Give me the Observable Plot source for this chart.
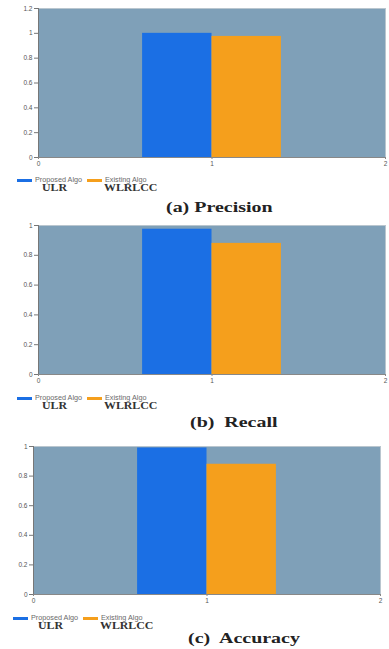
<!DOCTYPE html>
<html>
<head>
<meta charset="utf-8">
<script src="https://cdn.jsdelivr.net/npm/d3@7"></script>
<script src="https://cdn.jsdelivr.net/npm/@observablehq/plot@0.6"></script>
<style>
  body { margin: 0; background: #fff; }
  #root { position: relative; width: 389px; height: 649px; overflow: hidden; }
  .panel { position: absolute; left: 0; width: 389px; }
  .legend { position: absolute; font-family: "Liberation Sans", Arial, sans-serif; font-size: 6.3px; color: #6a6a6a; }
  .sw { position: absolute; height: 3px; width: 15px; }
  .lt { position: absolute; white-space: nowrap; transform: scaleX(1.15); transform-origin: left center; }
  .method { position: absolute; font-family: "Liberation Serif", "Times New Roman", serif; font-weight: bold; font-size: 9.5px; color: #333; white-space: nowrap; transform: scaleX(1.25); transform-origin: left center; }
  .title { position: absolute; font-family: "Liberation Serif", "Times New Roman", serif; font-weight: bold; font-size: 15px; color: #222; white-space: pre; transform: scaleX(1.33); transform-origin: left center; }
</style>
</head>
<body>
<div id="root"></div>
<script>
// Algorithms compared in every panel
const algos = ["Proposed Algo", "Existing Algo"];
const methods = ["ULR", "WLRLCC"];
const colors = ["#1b6fe4", "#f59f1c"];

// Metric values per algorithm
const precision = [1.0, 0.975];
const recall = [0.975, 0.88];
const accuracy = [0.99, 0.88];

// X axis ticks and y axis maxima
const xTicks = [0, 1, 2];
const yMax = [1.2, 1, 1];

const panels = [
  {values: precision, title: "(a) Precision", top: 0, height: 170, mt: 8, ml: 38, mr: 4, ymax: yMax[0],
   legend: {top: 176, x: 17}, titlePos: {top: 199, left: 166}},
  {values: recall, title: "(b)  Recall", top: 215, height: 172, mt: 10, ml: 38, mr: 4, ymax: yMax[1],
   legend: {top: 394, x: 17}, titlePos: {top: 414, left: 190}},
  {values: accuracy, title: "(c)  Accuracy", top: 436, height: 171, mt: 10, ml: 33, mr: 9, ymax: yMax[2],
   legend: {top: 614, x: 13}, titlePos: {top: 630, left: 188}}
];

const root = document.getElementById("root");
const barW = 0.4; // bars sit side by side around x = 1

for (const p of panels) {
  const rows = algos.map((a, i) => ({
    algo: a,
    value: p.values[i],
    x1: 1 - barW + i * barW,
    x2: 1 + i * barW
  }));

  const chart = Plot.plot({
    width: 389,
    height: p.height,
    marginTop: p.mt,
    marginBottom: 13,
    marginLeft: p.ml,
    marginRight: p.mr,
    style: {fontFamily: "Liberation Sans, Arial, sans-serif", fontSize: "6.5px", color: "#555", background: "transparent"},
    x: {domain: [0, 2]},
    y: {domain: [0, p.ymax]},
    color: {domain: algos, range: colors},
    marks: [
      Plot.frame({fill: "#7fa0b8", stroke: "#b9c6cf"}),
      Plot.rect(rows, {x1: "x1", x2: "x2", y1: 0, y2: "value", fill: "algo"}),
      Plot.axisY({ticks: d3.range(0, p.ymax + 1e-9, 0.2), tickSize: 4, tickPadding: 2, label: null,
                  tickFormat: d => String(+d.toFixed(1)), stroke: "#777"}),
      Plot.axisX({ticks: xTicks, tickSize: 2, tickPadding: 2, label: null, stroke: "#888",
                  tickFormat: d => String(d)}),
      Plot.ruleY([0], {stroke: "#888"}),
      Plot.ruleX([0], {stroke: "#777"})
    ]
  });

  const panel = document.createElement("div");
  panel.className = "panel";
  panel.style.top = p.top + "px";
  panel.appendChild(chart);
  root.appendChild(panel);

  // Legend: swatch + algorithm name, with the method name underneath
  const lg = document.createElement("div");
  lg.className = "legend";
  lg.style.top = p.legend.top + "px";
  lg.style.left = p.legend.x + "px";
  const offsets = [0, 70];
  algos.forEach((a, i) => {
    const sw = document.createElement("div");
    sw.className = "sw";
    sw.style.left = offsets[i] + "px";
    sw.style.top = "2.5px";
    sw.style.background = colors[i];
    lg.appendChild(sw);
    const t = document.createElement("div");
    t.className = "lt";
    t.style.left = (offsets[i] + 18) + "px";
    t.style.top = "0px";
    t.textContent = a;
    lg.appendChild(t);
    const m = document.createElement("div");
    m.className = "method";
    m.style.left = (offsets[i] + (i === 0 ? 25 : 17)) + "px";
    m.style.top = "7px";
    m.textContent = methods[i];
    lg.appendChild(m);
  });
  root.appendChild(lg);

  const ti = document.createElement("div");
  ti.className = "title";
  ti.style.top = p.titlePos.top + "px";
  ti.style.left = p.titlePos.left + "px";
  ti.textContent = p.title;
  root.appendChild(ti);
}
</script>
</body>
</html>
